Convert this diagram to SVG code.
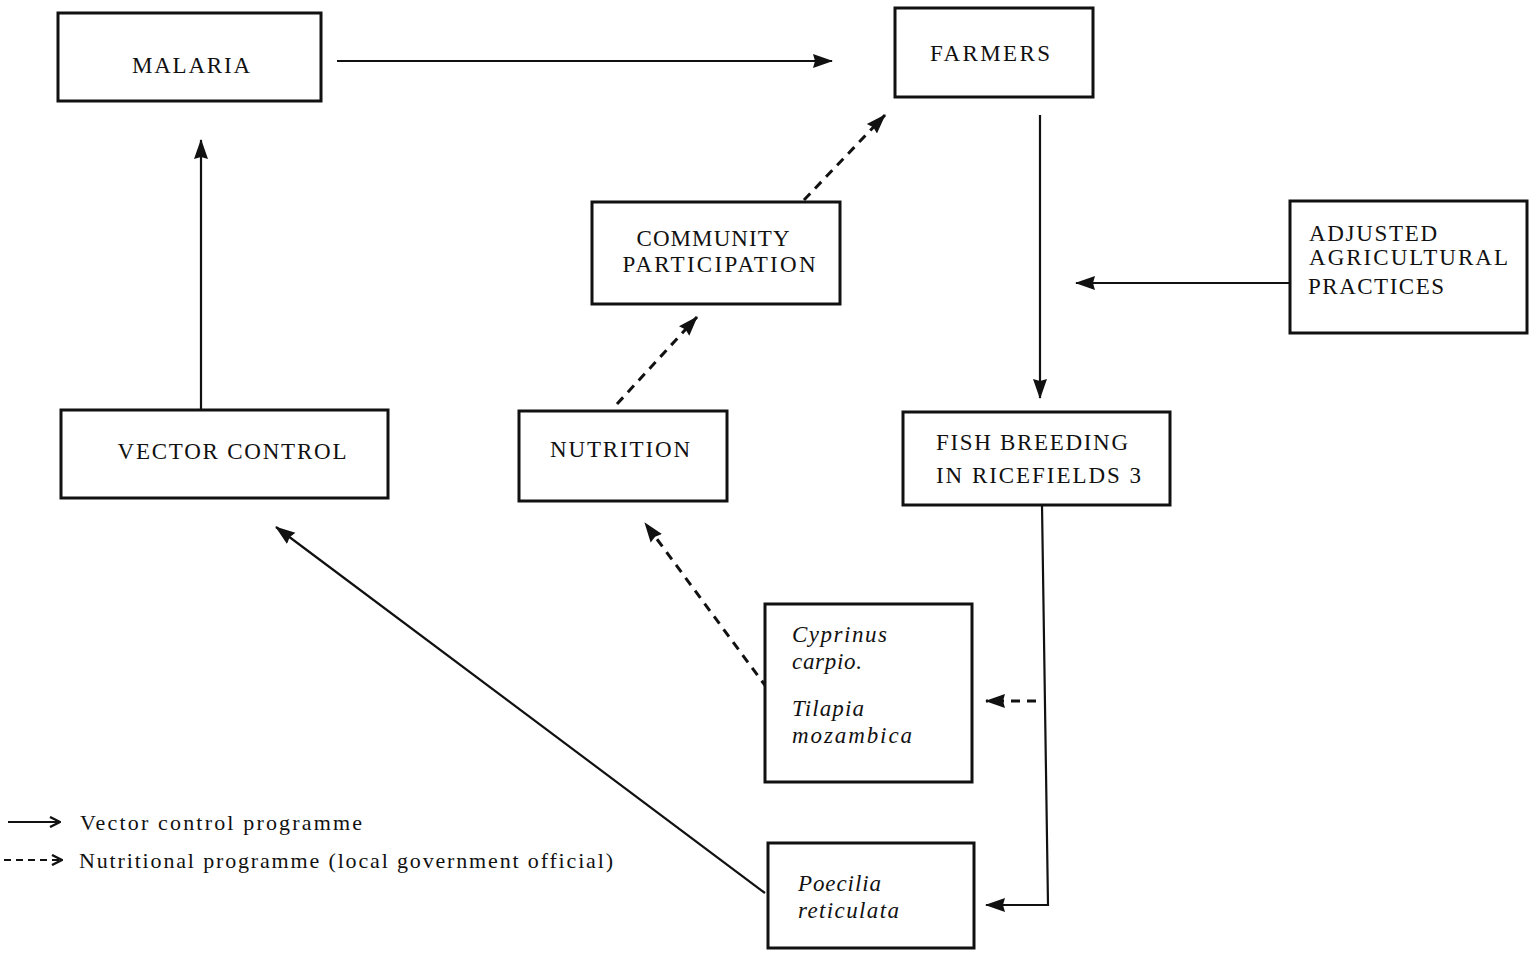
<svg xmlns="http://www.w3.org/2000/svg" width="1540" height="956" viewBox="0 0 1540 956">
<style>
.box{fill:#fff;stroke:#111;stroke-width:3}
.t{font-family:"Liberation Serif","DejaVu Serif",serif;font-size:23px;fill:#111}
.c{text-anchor:middle}
.i{font-style:italic;font-size:23px}
.lgt{font-size:22px}
.ln{fill:none;stroke:#111;stroke-width:2.2}
.d{stroke-dasharray:9 7;stroke-width:3}
</style>
<defs>
<marker id="ah" viewBox="0 0 20 16" refX="19" refY="8" markerWidth="20" markerHeight="16" markerUnits="userSpaceOnUse" orient="auto">
<path d="M0,1 L20,8 L0,15 L2,8 Z" fill="#111"/>
</marker>
<marker id="lg" viewBox="0 0 12 12" refX="11" refY="6" markerWidth="12" markerHeight="12" markerUnits="userSpaceOnUse" orient="auto">
<path d="M1,1 L11,6 L1,11" fill="none" stroke="#111" stroke-width="2.4"/>
</marker>
</defs>

<g id="connectors">
<line class="ln" x1="337" y1="61" x2="832" y2="61" marker-end="url(#ah)"/>
<line class="ln" x1="1040" y1="115" x2="1040" y2="398" marker-end="url(#ah)"/>
<line class="ln" x1="1290" y1="283" x2="1076" y2="283" marker-end="url(#ah)"/>
<line class="ln" x1="201" y1="410" x2="201" y2="140" marker-end="url(#ah)"/>
<line class="ln d" x1="617" y1="404" x2="697" y2="317" marker-end="url(#ah)"/>
<line class="ln d" x1="804" y1="200" x2="885" y2="115" marker-end="url(#ah)"/>
<line class="ln d" x1="767" y1="688" x2="645" y2="523" marker-end="url(#ah)"/>
<line class="ln d" x1="1036" y1="701" x2="986" y2="701" marker-end="url(#ah)"/>
<polyline class="ln" points="1042,505 1048,905 986,905" marker-end="url(#ah)"/>
<line class="ln" x1="765" y1="893" x2="276" y2="527" marker-end="url(#ah)"/>
</g>

<g id="malaria">
<rect class="box" x="58" y="13" width="263" height="88"/>
<text class="t c" x="191" y="73" textLength="118" lengthAdjust="spacing">MALARIA</text>
</g>
<g id="farmers">
<rect class="box" x="895" y="8" width="198" height="89"/>
<text class="t c" x="990" y="61" textLength="120" lengthAdjust="spacing">FARMERS</text>
</g>
<g id="community">
<rect class="box" x="592" y="202" width="248" height="102"/>
<text class="t c" x="713" y="246" textLength="153" lengthAdjust="spacing">COMMUNITY</text>
<text class="t c" x="719" y="272" textLength="193" lengthAdjust="spacing">PARTICIPATION</text>
</g>
<g id="adjusted">
<rect class="box" x="1290" y="201" width="237" height="132"/>
<text class="t" x="1309" y="241" textLength="128" lengthAdjust="spacing">ADJUSTED</text>
<text class="t" x="1309" y="265" textLength="199" lengthAdjust="spacing">AGRICULTURAL</text>
<text class="t" x="1308" y="294" textLength="136" lengthAdjust="spacing">PRACTICES</text>
</g>
<g id="vector-control">
<rect class="box" x="61" y="410" width="327" height="88"/>
<text class="t c" x="232" y="459" textLength="229" lengthAdjust="spacing">VECTOR CONTROL</text>
</g>
<g id="nutrition">
<rect class="box" x="519" y="411" width="208" height="90"/>
<text class="t c" x="620" y="457" textLength="140" lengthAdjust="spacing">NUTRITION</text>
</g>
<g id="fish-breeding">
<rect class="box" x="903" y="412" width="267" height="93"/>
<text class="t" x="936" y="450" textLength="192" lengthAdjust="spacing">FISH BREEDING</text>
<text class="t" x="936" y="483" textLength="205" lengthAdjust="spacing">IN RICEFIELDS 3</text>
</g>
<g id="cyprinus-tilapia">
<rect class="box" x="765" y="604" width="207" height="178"/>
<text class="t i" x="792" y="642" textLength="95" lengthAdjust="spacing">Cyprinus</text>
<text class="t i" x="792" y="669" textLength="70" lengthAdjust="spacing">carpio.</text>
<text class="t i" x="792" y="716" textLength="72" lengthAdjust="spacing">Tilapia</text>
<text class="t i" x="792" y="743" textLength="120" lengthAdjust="spacing">mozambica</text>
</g>
<g id="poecilia">
<rect class="box" x="768" y="843" width="206" height="105"/>
<text class="t i" x="798" y="891" textLength="83" lengthAdjust="spacing">Poecilia</text>
<text class="t i" x="798" y="918" textLength="101" lengthAdjust="spacing">reticulata</text>
</g>
<g id="legend">
<line class="ln" x1="8" y1="822" x2="60" y2="822" marker-end="url(#lg)"/>
<text class="t lgt" x="80" y="830" textLength="282" lengthAdjust="spacing">Vector control programme</text>
<line class="ln" x1="4" y1="860" x2="62" y2="860" stroke-dasharray="7 5" marker-end="url(#lg)"/>
<text class="t lgt" x="79" y="868" textLength="534" lengthAdjust="spacing">Nutritional programme (local government official)</text>
</g>
</svg>
